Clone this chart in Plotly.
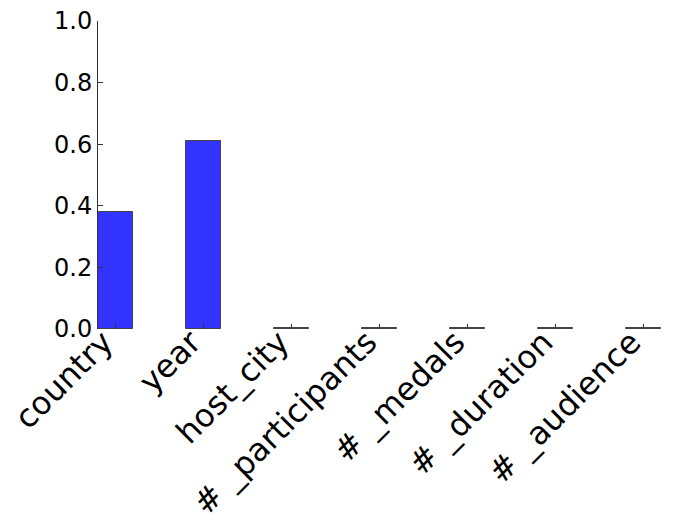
import plotly.graph_objects as go

categories = ["country", "year", "host_city", "# _participants", "# _medals", "# _duration", "# _audience"]
values = [0.38, 0.61, 0.002, 0.002, 0.004, 0.002, 0.002]
y_ticks = [0.0, 0.2, 0.4, 0.6, 0.8, 1.0]
y_tick_labels = ["0.0", "0.2", "0.4", "0.6", "0.8", "1.0"]

x_pos = list(range(len(categories)))

fig = go.Figure()
fig.add_trace(go.Bar(
    x=x_pos, y=values, width=0.4,
    marker=dict(color="rgb(51,51,255)", line=dict(color="#444444", width=1)),
))
# page body has an 8px default margin, so figure is sized/offset accordingly
fig.update_layout(
    width=668, height=520,
    margin=dict(l=90, r=15, t=13, b=199, autoexpand=False),
    paper_bgcolor="white", plot_bgcolor="white",
    font=dict(family="DejaVu Sans", size=26, color="black"),
    showlegend=False,
    bargap=0,
)
fig.update_xaxes(
    range=[-0.2, 6.2], tickmode="array", tickvals=x_pos, ticktext=categories,
    tickangle=-45, ticks="inside", ticklen=5, tickcolor="#333333", tickwidth=1,
    showline=False, showgrid=False, zeroline=False, automargin=False,
    tickfont=dict(size=32), ticklabelstandoff=-13, ticklabelshift=-12,
    ticklabeloverflow="allow",
)
fig.update_yaxes(
    range=[0, 1], tickmode="array", tickvals=y_ticks, ticktext=y_tick_labels,
    ticks="inside", ticklen=5, tickcolor="#333333", tickwidth=1,
    showline=True, linecolor="#333333", linewidth=1, automargin=False,
    showgrid=False, zeroline=False, tickfont=dict(size=24),
    ticklabeloverflow="allow",
)
fig.write_html("out.html")
